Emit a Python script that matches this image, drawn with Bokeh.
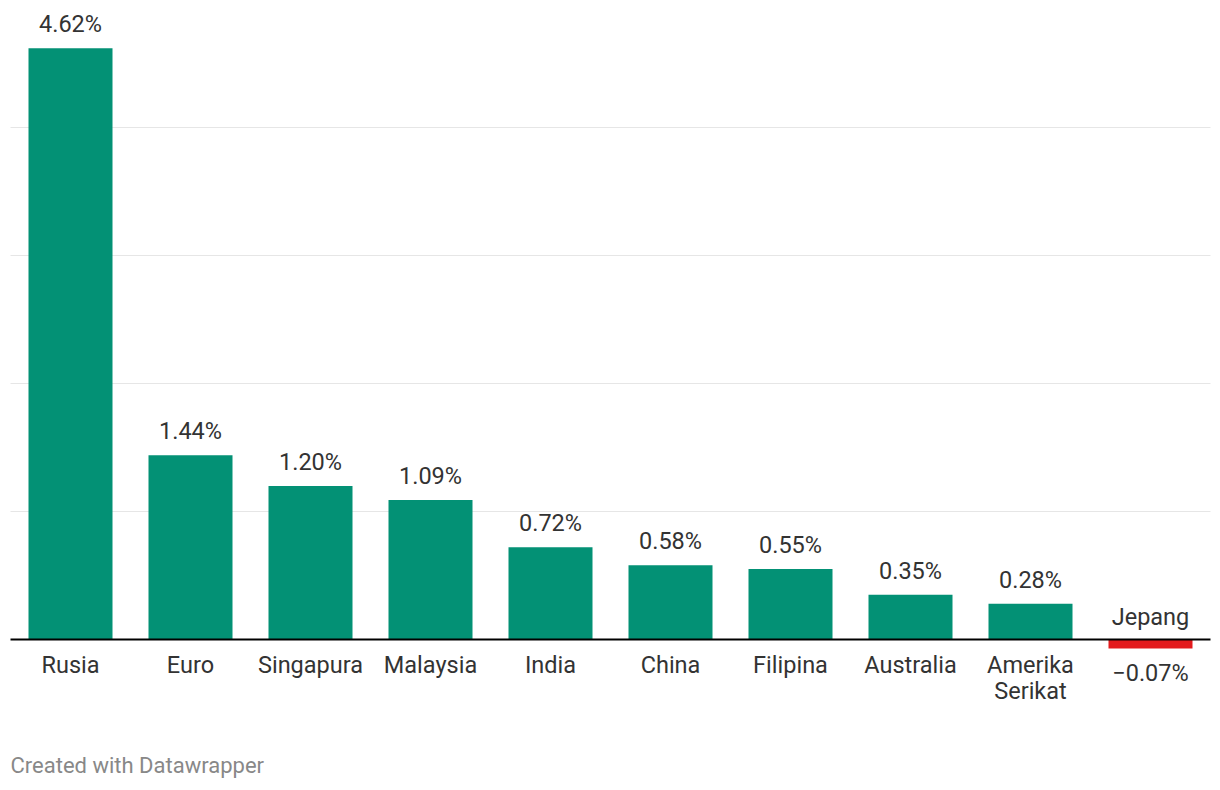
from bokeh.plotting import figure
from bokeh.models import Range1d, ColumnDataSource, Label
from bokeh.embed import file_html
from bokeh.resources import INLINE
from bokeh.core.properties import value

categories = ["Rusia", "Euro", "Singapura", "Malaysia", "India", "China",
              "Filipina", "Australia", "Amerika\nSerikat", "Jepang"]
values = [4.62, 1.44, 1.20, 1.09, 0.72, 0.58, 0.55, 0.35, 0.28, -0.07]
value_labels = ["4.62%", "1.44%", "1.20%", "1.09%", "0.72%", "0.58%",
                "0.55%", "0.35%", "0.28%", "\u22120.07%"]
gridlines = [1, 2, 3, 4]

GREEN = "#039175"
RED = "#e31a1c"
TEXT = "#333333"
FONT = value("Roboto")
FS = "23.5px"

W, H = 1212, 782
step = 120
base_px = 639   # baseline position from figure top
unit = 128      # pixels per 1%
left_px = 70    # center of first bar

n = len(categories)
idx = list(range(n))

p = figure(width=W, height=H, output_backend="svg", toolbar_location=None,
           x_range=Range1d(-left_px / step, (W - left_px) / step),
           y_range=Range1d(-(H - base_px) / unit, base_px / unit),
           min_border=0, min_border_left=0, min_border_right=0,
           min_border_top=0, min_border_bottom=0)
p.axis.visible = False
p.grid.visible = False
p.outline_line_color = None
p.background_fill_color = "white"
p.border_fill_color = "white"

# gridlines
p.segment(x0=[-0.5] * len(gridlines), x1=[n - 0.5] * len(gridlines),
          y0=gridlines, y1=gridlines, line_color="#e6e6e6", line_width=1)

pos = [i for i in idx if values[i] >= 0]
neg = [i for i in idx if values[i] < 0]

src_pos = ColumnDataSource(dict(x=pos, top=[values[i] for i in pos],
                                vl=[value_labels[i] for i in pos],
                                cat=[categories[i] for i in pos]))
src_neg = ColumnDataSource(dict(x=neg, top=[values[i] for i in neg],
                                vl=[value_labels[i] for i in neg],
                                cat=[categories[i] for i in neg]))

p.vbar(x="x", top="top", bottom=0, width=0.7, source=src_pos,
       fill_color=GREEN, line_color=None)
p.vbar(x="x", top="top", bottom=0, width=0.7, source=src_neg,
       fill_color=RED, line_color=None)

# baseline
p.segment(x0=[-0.5], x1=[n - 0.5], y0=[0], y1=[0], line_color="#000000", line_width=2)

# value labels
p.text(x="x", y="top", text="vl", source=src_pos, text_font=FONT, text_font_size=FS,
       text_color=TEXT, text_align="center", text_baseline="middle", y_offset=-24)
p.text(x="x", y="top", text="vl", source=src_neg, text_font=FONT, text_font_size=FS,
       text_color=TEXT, text_align="center", text_baseline="middle", y_offset=25)

# category labels
p.text(x="x", y=0, text="cat", source=src_pos, text_font=FONT, text_font_size=FS,
       text_color=TEXT, text_align="center", text_baseline="top", y_offset=11,
       text_line_height=0.95)
p.text(x="x", y=0, text="cat", source=src_neg, text_font=FONT, text_font_size=FS,
       text_color=TEXT, text_align="center", text_baseline="middle", y_offset=-23)

footer = Label(x=10, y=H - 765, x_units="screen", y_units="screen",
               text="Created with Datawrapper", text_font="Roboto",
               text_font_size="22px", text_color="#888888", text_baseline="middle")
p.add_layout(footer)

open("out.html", "w").write(file_html(p, INLINE))
